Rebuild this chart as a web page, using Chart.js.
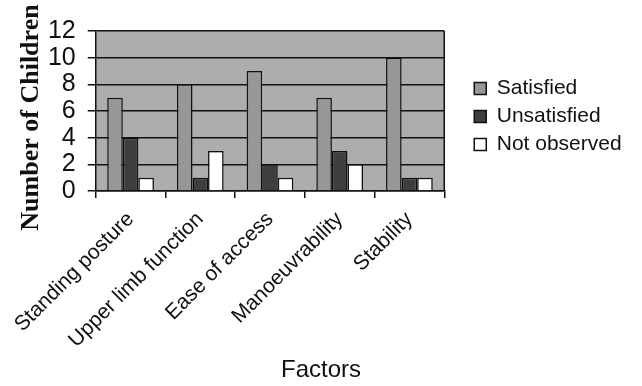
<!DOCTYPE html>
<html>
<head>
<meta charset="utf-8">
<script src="https://cdn.jsdelivr.net/npm/chart.js@4/dist/chart.umd.min.js"></script>
<style>
  html, body { margin: 0; padding: 0; background: #fff; }
  #wrap { width: 642px; height: 386px; }
</style>
</head>
<body>
<div id="wrap"><canvas id="c" width="642" height="386"></canvas></div>
<script>
// values
const factors = ["Standing posture", "Upper limb function", "Ease of access", "Manoeuvrability", "Stability"];
const satisfied = [7, 8, 9, 7, 10];
const unsatisfied = [4, 1, 2, 3, 1];
const notObserved = [1, 3, 1, 2, 1];
const yTicks = [0, 2, 4, 6, 8, 10, 12];
const xTitle = 'Factors';

// grey plot background + frame, and the x title which sits off-centre
const plotBg = {
  id: 'plotBg',
  beforeDraw(chart) {
    const a = chart.chartArea, ctx = chart.ctx;
    ctx.save();
    ctx.fillStyle = '#adadad';
    ctx.fillRect(a.left, a.top, a.right - a.left, a.bottom - a.top);
    ctx.restore();
  },
  afterDraw(chart) {
    const a = chart.chartArea, ctx = chart.ctx;
    ctx.save();
    ctx.strokeStyle = '#111';
    ctx.lineWidth = 1.5;
    ctx.beginPath();
    ctx.moveTo(a.right, a.top);
    ctx.lineTo(a.right, a.bottom);
    ctx.stroke();
    ctx.fillStyle = '#111';
    ctx.font = '24px "Liberation Sans"';
    ctx.textAlign = 'center';
    ctx.textBaseline = 'middle';
    ctx.fillText(xTitle, 321, 370);
    ctx.restore();
  }
};

function ds(label, data, color) {
  return {
    label: label,
    data: data,
    backgroundColor: color,
    borderColor: '#111',
    borderWidth: 1.5,
    categoryPercentage: 0.67,
    barPercentage: 1.0
  };
}

new Chart(document.getElementById('c'), {
  type: 'bar',
  data: {
    labels: factors,
    datasets: [
      ds('Satisfied', satisfied, '#979797'),
      ds('Unsatisfied', unsatisfied, '#3e3e3e'),
      ds('Not observed', notObserved, '#ffffff')
    ]
  },
  plugins: [plotBg],
  options: {
    responsive: false,
    animation: false,
    layout: { padding: { top: 31, right: 19, left: 0, bottom: 0 } },
    plugins: {
      legend: {
        position: 'right',
        align: 'start',
        title: { display: true, text: ' ', font: { size: 10 }, padding: { top: 28, bottom: 0 } },
        labels: {
          font: { family: 'Liberation Sans', size: 21 },
          color: '#111',
          boxWidth: 12,
          boxHeight: 12,
          padding: 7
        }
      },
      tooltip: { enabled: false }
    },
    scales: {
      x: {
        grid: { display: true, drawOnChartArea: false, color: '#111', lineWidth: 1.5, tickLength: 7, offset: true },
        border: { color: '#111', width: 1.5 },
        ticks: {
          font: { family: 'Liberation Sans', size: 21 },
          color: '#111',
          minRotation: 45,
          maxRotation: 45,
          autoSkip: false,
          padding: 9
        },
        afterFit(scale) { scale.height = 195; }
      },
      y: {
        min: 0,
        max: 12,
        afterBuildTicks(scale) { scale.ticks = yTicks.map(v => ({ value: v })); },
        grid: { color: '#111', lineWidth: 1.5, tickLength: 8 },
        border: { color: '#111', width: 1.5 },
        ticks: {
          font: { family: 'Liberation Sans', size: 25 },
          color: '#111',
          autoSkip: false,
          padding: 12
        },
        title: {
          display: true,
          text: 'Number of Children  ',
          font: { family: 'Liberation Serif', size: 26, weight: 'bold' },
          color: '#111',
          padding: { top: 13, bottom: 0 }
        },
        afterFit(scale) { scale.width = 93; }
      },
      // hidden axis, only keeps the gap between plot and legend
      gap: {
        type: 'linear',
        position: 'right',
        display: false,
        afterFit(scale) { scale.width = 23; }
      }
    }
  }
});
</script>
</body>
</html>
